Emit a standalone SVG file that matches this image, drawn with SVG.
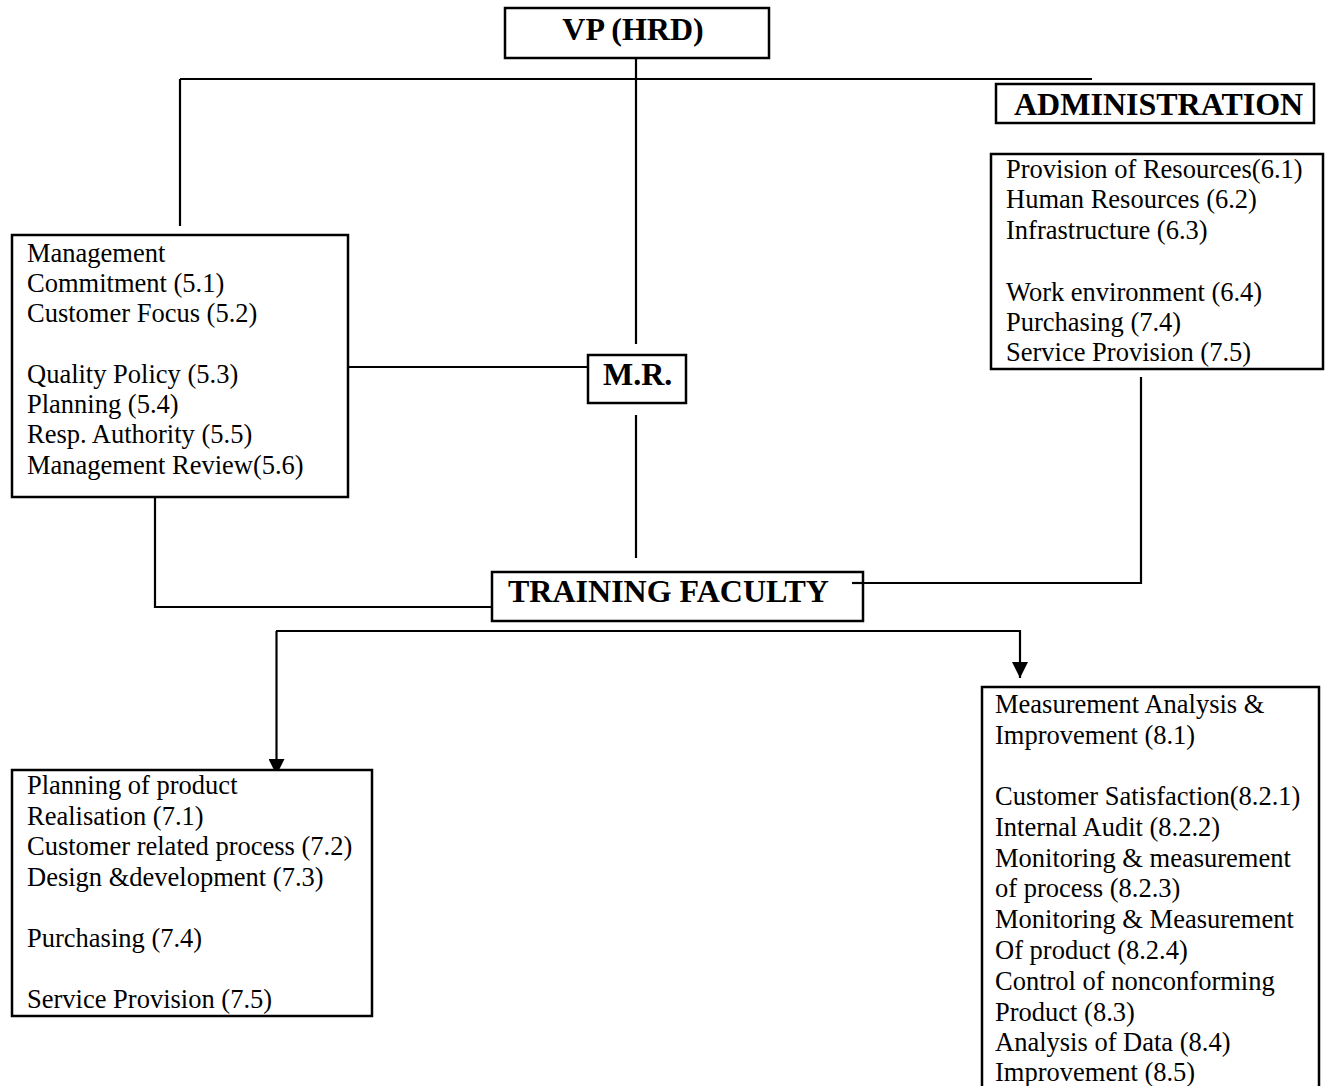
<svg xmlns="http://www.w3.org/2000/svg" width="1325" height="1086" viewBox="0 0 1325 1086">
<defs>
<style>
.box{fill:#fff;stroke:#000;stroke-width:2.5}
.ln{fill:none;stroke:#000;stroke-width:2.2}
.t{font-family:"Liberation Serif","Times New Roman",serif;font-size:26.5px;fill:#000}
.h{font-family:"Liberation Serif","Times New Roman",serif;font-size:32px;font-weight:bold;fill:#000}
</style>
<marker id="arr" markerUnits="userSpaceOnUse" markerWidth="16" markerHeight="16" refX="16" refY="8" orient="auto">
<path d="M0,0 L16,8 L0,16 Z" fill="#000"/>
</marker>
</defs>
<rect width="1325" height="1086" fill="#fff"/>
<g id="connectors">
<line class="ln" x1="180" y1="79" x2="1092" y2="79"/>
<line class="ln" x1="180" y1="79" x2="180" y2="226"/>
<line class="ln" x1="636" y1="58" x2="636" y2="344"/>
<line class="ln" x1="348" y1="367" x2="588" y2="367"/>
<line class="ln" x1="636" y1="415" x2="636" y2="558"/>
<polyline class="ln" points="155,497 155,607 492,607"/>
<polyline class="ln" points="1141,377 1141,583 852,583"/>
<line class="ln" x1="276" y1="631" x2="1021" y2="631"/>
<line class="ln" x1="276.5" y1="631" x2="276.5" y2="775" marker-end="url(#arr)"/>
<line class="ln" x1="1020" y1="631" x2="1020" y2="678" marker-end="url(#arr)"/>
</g>
<g id="vp">
<rect class="box" x="505" y="8" width="264" height="50"/>
<text class="h" x="633" y="40" text-anchor="middle">VP (HRD)</text>
</g>
<g id="administration">
<rect class="box" x="996" y="84" width="318" height="39"/>
<text class="h" x="1014" y="115">ADMINISTRATION</text>
</g>
<g id="admin-items">
<rect class="box" x="991" y="154" width="332" height="215"/>
<text class="t" x="1006" y="178">Provision of Resources(6.1)</text>
<text class="t" x="1006" y="208">Human Resources (6.2)</text>
<text class="t" x="1006" y="239">Infrastructure (6.3)</text>
<text class="t" x="1006" y="301">Work environment (6.4)</text>
<text class="t" x="1006" y="331">Purchasing (7.4)</text>
<text class="t" x="1006" y="361">Service Provision (7.5)</text>
</g>
<g id="management">
<rect class="box" x="12" y="235" width="336" height="262"/>
<text class="t" x="27" y="262">Management</text>
<text class="t" x="27" y="292">Commitment (5.1)</text>
<text class="t" x="27" y="322">Customer Focus (5.2)</text>
<text class="t" x="27" y="383">Quality Policy (5.3)</text>
<text class="t" x="27" y="413">Planning (5.4)</text>
<text class="t" x="27" y="443">Resp. Authority (5.5)</text>
<text class="t" x="27" y="474">Management Review(5.6)</text>
</g>
<g id="mr">
<rect class="box" x="588" y="355" width="98" height="48"/>
<text class="h" x="603" y="385">M.R.</text>
</g>
<g id="training-faculty">
<rect class="box" x="492" y="572" width="371" height="49"/>
<text class="h" x="508" y="602">TRAINING FACULTY</text>
</g>
<line class="ln" x1="852" y1="583" x2="863" y2="583"/>
<g id="product-realisation">
<rect class="box" x="12" y="770" width="360" height="246"/>
<text class="t" x="27" y="794">Planning of product</text>
<text class="t" x="27" y="825">Realisation (7.1)</text>
<text class="t" x="27" y="855">Customer related process (7.2)</text>
<text class="t" x="27" y="886">Design &amp;development (7.3)</text>
<text class="t" x="27" y="947">Purchasing (7.4)</text>
<text class="t" x="27" y="1008">Service Provision (7.5)</text>
</g>
<g id="measurement">
<rect class="box" x="982" y="687" width="337" height="420"/>
<text class="t" x="995" y="713">Measurement Analysis &amp;</text>
<text class="t" x="995" y="744">Improvement (8.1)</text>
<text class="t" x="995" y="805">Customer Satisfaction(8.2.1)</text>
<text class="t" x="995" y="836">Internal Audit (8.2.2)</text>
<text class="t" x="995" y="867">Monitoring &amp; measurement</text>
<text class="t" x="995" y="897">of process (8.2.3)</text>
<text class="t" x="995" y="928">Monitoring &amp; Measurement</text>
<text class="t" x="995" y="959">Of product (8.2.4)</text>
<text class="t" x="995" y="990">Control of nonconforming</text>
<text class="t" x="995" y="1021">Product (8.3)</text>
<text class="t" x="995" y="1051">Analysis of Data (8.4)</text>
<text class="t" x="995" y="1081">Improvement (8.5)</text>
</g>
</svg>
